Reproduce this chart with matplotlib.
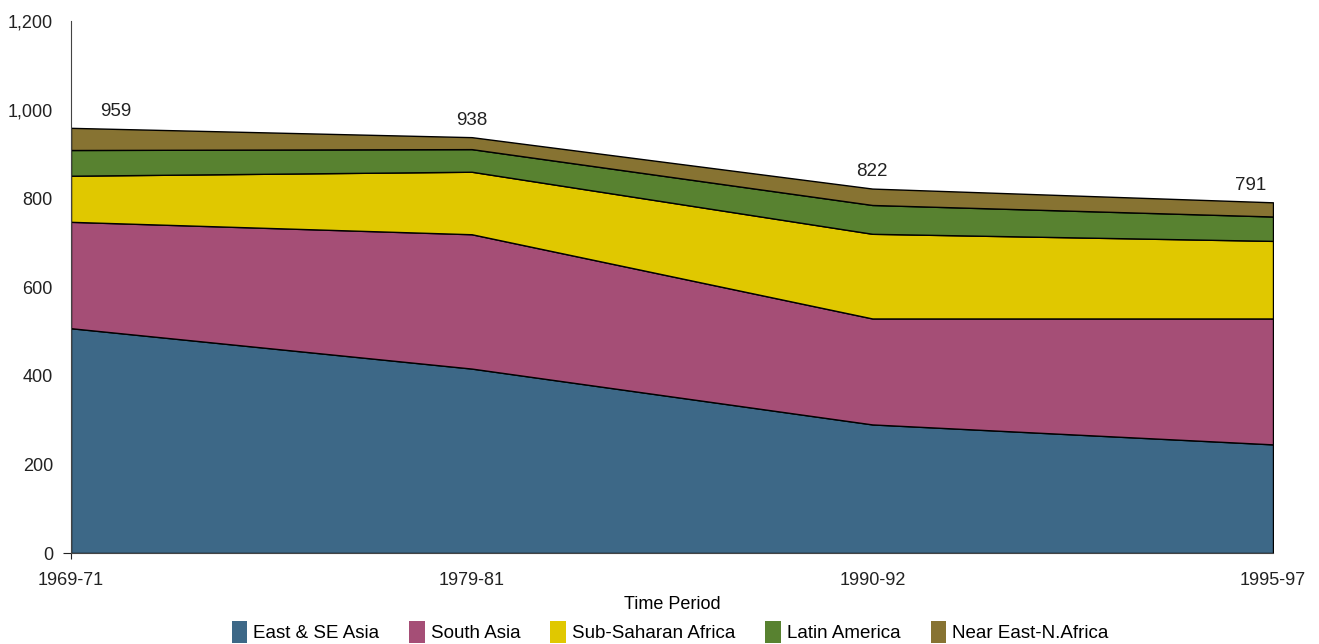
import matplotlib
matplotlib.use('Agg')
import numpy as np
import matplotlib.pyplot as plt
from matplotlib.ticker import FuncFormatter
from matplotlib.patches import Patch

plt.rcParams['font.family'] = ['Liberation Sans', 'DejaVu Sans']

periods = ['1969-71', '1979-81', '1990-92', '1995-97']
east_se_asia = [507, 416, 290, 245]
south_asia = [240, 303, 239, 284]
sub_saharan = [104, 141, 191, 175]
latin_america = [58, 51, 65, 55]
near_east = [50, 27, 37, 32]
totals = [959, 938, 822, 791]

names = ['East & SE Asia', 'South Asia', 'Sub-Saharan Africa', 'Latin America', 'Near East-N.Africa']
colors = ['#3D6887', '#A54E76', '#E0C800', '#588230', '#877332']

fig = plt.figure(figsize=(13.19, 6.44), dpi=100)
ax = fig.add_axes([71/1319, 91/644, (1273-71)/1319, (553-21)/644])

x = np.arange(len(periods))
series = [east_se_asia, south_asia, sub_saharan, latin_america, near_east]
ax.stackplot(x, *series, colors=colors, edgecolor='black', linewidth=1)

ax.set_xlim(0, len(periods) - 1)
ax.set_ylim(0, 1200)
ax.set_yticks(range(0, 1201, 200))
ax.yaxis.set_major_formatter(FuncFormatter(lambda v, p: f'{int(v):,}'))
ax.set_xticks(x)
ax.set_xticklabels(periods)
ax.tick_params(axis='both', labelsize=13, colors='#222222', length=0)
ax.tick_params(axis='y', pad=13)
ax.tick_params(axis='x', pad=14)
# small tick only at the origin
ax.yaxis.get_major_ticks()[0].tick1line.set_markersize(6)
ax.xaxis.get_major_ticks()[0].tick1line.set_markersize(4)
for s in ['top', 'right']:
    ax.spines[s].set_visible(False)
for s in ['left', 'bottom']:
    ax.spines[s].set_color('#444444')
ax.set_xlabel('Time Period', fontsize=13, labelpad=5)

# total labels
aligns = ['left', 'center', 'center', 'right']
dx = [21, 0, 0, -5]
for i, t in enumerate(totals):
    ax.annotate(str(t), (x[i], t), xytext=(dx[i], 6), textcoords='offset points',
                ha=aligns[i], va='bottom', fontsize=13.5, color='#222222')

handles = [Patch(facecolor=c, edgecolor='none') for c in colors]
fig.legend(handles, names, loc='center', bbox_to_anchor=(670/1319, 1 - 632/644), ncol=5,
           frameon=False, fontsize=13.5, handlelength=0.85, handleheight=1.4,
           handletextpad=0.3, columnspacing=1.6)

fig.savefig('out.png', dpi=100)
